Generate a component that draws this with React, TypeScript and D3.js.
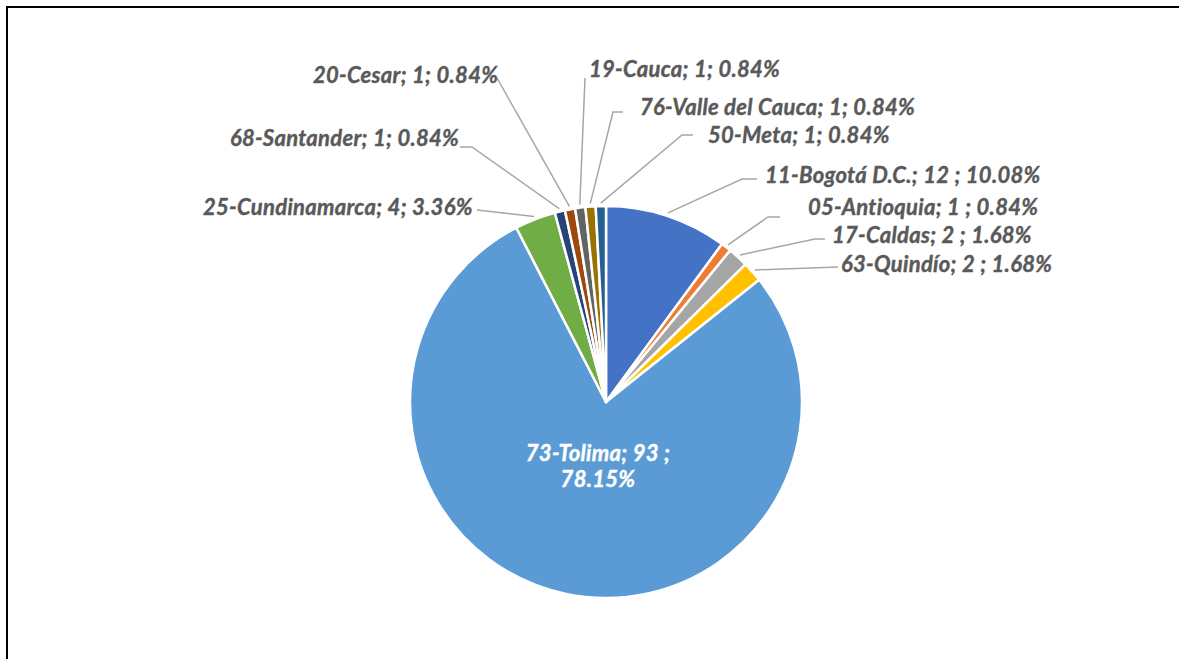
import React from "react";
import * as d3 from "d3";

const categories = [
  "11-Bogotá D.C.",
  "05-Antioquia",
  "17-Caldas",
  "63-Quindío",
  "73-Tolima",
  "25-Cundinamarca",
  "68-Santander",
  "20-Cesar",
  "19-Cauca",
  "76-Valle del Cauca",
  "50-Meta",
];
const values = [12, 1, 2, 2, 93, 4, 1, 1, 1, 1, 1];
const separators1 = ["; ", "; ", "; ", "; ", "; ", "; ", "; ", "; ", "; ", "; ", "; "];
const separators2 = [" ; ", " ; ", " ; ", " ; ", " ;", "; ", "; ", "; ", "; ", "; ", "; "];
const colors = [
  "#4472C4", "#ED7D31", "#A5A5A5", "#FFC000", "#5B9BD5", "#70AD47",
  "#264478", "#9E480E", "#636363", "#997300", "#255E91",
];

// label layout: text start x, baseline y, leader points from label toward slice
const labelLayout: { x: number; y: number; pts: [number, number][] }[] = [
  { x: 765, y: 183, pts: [[757, 179], [742, 179]] },
  { x: 808, y: 215, pts: [[780, 217], [768, 217]] },
  { x: 832, y: 243, pts: [[825, 239], [815, 239]] },
  { x: 841, y: 272, pts: [[838, 267]] },
  { x: 0, y: 0, pts: [] },
  { x: 203, y: 215, pts: [[477, 210]] },
  { x: 230, y: 146, pts: [[460, 147], [472, 147]] },
  { x: 313, y: 83, pts: [[497, 78]] },
  { x: 589, y: 77, pts: [[585, 78]] },
  { x: 640, y: 115, pts: [[623, 112], [613, 112]] },
  { x: 708, y: 143, pts: [[693, 135], [682, 135]] },
];

const cx = 606;
const cy = 402;
const R = 196;

export default function App() {
  const total = d3.sum(values);
  const pie = d3.pie<number>().sort(null).value((d) => d)(values);
  const arc = d3.arc<d3.PieArcDatum<number>>().innerRadius(0).outerRadius(R);
  const fmt = (v: number) => ((v / total) * 100).toFixed(2) + "%";
  const font = "Lato, 'Open Sans', sans-serif";
  const textProps = {
    fontFamily: font,
    fontWeight: "bold",
    fontStyle: "italic",
    fontSize: 22,
    letterSpacing: 0.3,
    strokeWidth: 0.4,
  } as const;

  return (
    <svg
      width={1179}
      height={659}
      style={{ position: "absolute", left: 0, top: 0, background: "#fff" }}
    >
      <rect x={7} y={7} width={1300} height={800} fill="#fff" stroke="#000" strokeWidth={2} />
      <g transform={`translate(${cx},${cy})`}>
        {pie.map((p, i) => (
          <path key={i} d={arc(p) || ""} fill={colors[i]} stroke="#fff" strokeWidth={2.5} strokeLinejoin="round" />
        ))}
      </g>
      {pie.map((p, i) => {
        if (i === 4) return null;
        const mid = (p.startAngle + p.endAngle) / 2;
        const ex = cx + 199 * Math.sin(mid);
        const ey = cy - 199 * Math.cos(mid);
        const L = labelLayout[i];
        const pts = [...L.pts, [ex, ey]];
        const line = d3.line()(pts as [number, number][]);
        return (
          <path key={"l" + i} d={line || ""} fill="none" stroke="#A6A6A6" strokeWidth={1.5} />
        );
      })}
      {pie.map((p, i) => {
        if (i === 4) return null;
        const L = labelLayout[i];
        return (
          <text key={"t" + i} x={L.x} y={L.y} {...textProps} fill="#595959" stroke="#595959">
            {categories[i] + separators1[i] + values[i] + separators2[i] + fmt(values[i])}
          </text>
        );
      })}
      <text x={598} y={461} textAnchor="middle" {...textProps} fill="#fff" stroke="#fff">
        {categories[4] + separators1[4] + values[4] + separators2[4]}
      </text>
      <text x={598} y={487} textAnchor="middle" {...textProps} fill="#fff" stroke="#fff">
        {fmt(values[4])}
      </text>
    </svg>
  );
}
